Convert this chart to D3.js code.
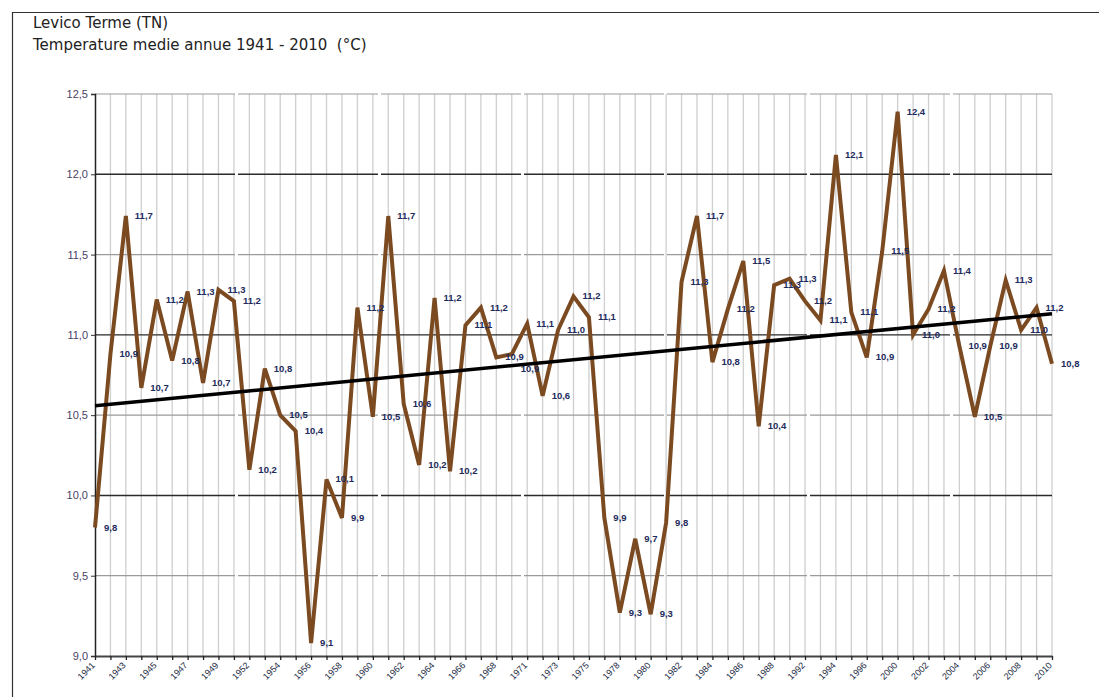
<!DOCTYPE html>
<html>
<head>
<meta charset="utf-8">
<script src="https://cdn.jsdelivr.net/npm/d3@7"></script>
<style>
  body { margin: 0; background: #fff; }
  svg { display: block; }
  .title { font-family: 'DejaVu Sans', sans-serif; font-size: 15px; fill: #222; white-space: pre; }
  .axis text { font-family: 'Liberation Sans', Arial, sans-serif; }
  .lbl { font-family: 'Liberation Sans', Arial, sans-serif; font-size: 9.5px; font-weight: bold; fill: #1d2b5c; }
</style>
</head>
<body>
<script>
'use strict'

// years present in the series (some years missing in the source)
const years = [1941, 1942, 1943, 1944, 1945, 1946, 1947, 1948, 1949, 1950,
  1952, 1953, 1954, 1955, 1956, 1957, 1958, 1959, 1960, 1961,
  1962, 1963, 1964, 1965, 1966, 1967, 1968, 1969, 1971, 1972,
  1973, 1974, 1975, 1976, 1978, 1979, 1980, 1981, 1982, 1983,
  1984, 1985, 1986, 1987, 1988, 1990, 1992, 1993, 1994, 1995,
  1996, 1998, 2000, 2001, 2002, 2003, 2004, 2005, 2006, 2007,
  2008, 2009, 2010]

const temps = [9.80, 10.88, 11.74, 10.67, 11.22, 10.84, 11.27, 10.70, 11.28, 11.21,
  10.16, 10.79, 10.50, 10.40, 9.08, 10.10, 9.86, 11.17, 10.49, 11.74,
  10.57, 10.19, 11.23, 10.15, 11.06, 11.17, 10.86, 10.88, 11.07, 10.62,
  11.03, 11.24, 11.11, 9.86, 9.27, 9.73, 9.26, 9.83, 11.33, 11.74,
  10.83, 11.16, 11.46, 10.43, 11.31, 11.35, 11.21, 11.09, 12.12, 11.14,
  10.86, 11.52, 12.39, 11.00, 11.16, 11.40, 10.93, 10.49, 10.93, 11.34,
  11.03, 11.17, 10.82]

const yTicks = [9.0, 9.5, 10.0, 10.5, 11.0, 11.5, 12.0, 12.5]

const titleLines = ['Levico Terme (TN)', 'Temperature medie annue 1941 - 2010  (°C)']

;(function () {
  const width = 1099
  const height = 697
  const margin = { top: 94, right: 47, bottom: 41, left: 95 }
  const fmt = v => d3.format('.1f')(v).replace('.', ',')

  const svg = d3.select('body').append('svg')
    .attr('width', width)
    .attr('height', height)

  // frame
  svg.append('path')
    .attr('d', 'M12.5,' + height + 'V12.5H' + width)
    .attr('fill', 'none')
    .attr('stroke', '#333')
    .attr('stroke-width', 1.2)

  svg.selectAll('text.title')
    .data(titleLines)
    .enter()
    .append('text')
    .attr('class', 'title')
    .attr('x', 33)
    .attr('y', function (d, i) { return 28 + i * 22 })
    .text(function (d) { return d })

  const x = d3.scalePoint()
    .domain(years)
    .range([margin.left, width - margin.right])
  const y = d3.scaleLinear()
    .domain([9, 12.5])
    .range([height - margin.bottom, margin.top])

  // vertical gridlines
  svg.append('g')
    .selectAll('line')
    .data(years.slice(1))
    .enter()
    .append('line')
    .attr('x1', d => x(d)).attr('x2', d => x(d))
    .attr('y1', y(12.5)).attr('y2', y(9))
    .attr('stroke', '#cfcfcf')
    .attr('stroke-width', 1.3)

  // horizontal gridlines
  svg.append('g')
    .selectAll('line')
    .data(yTicks.slice(1))
    .enter()
    .append('line')
    .attr('x1', x.range()[0]).attr('x2', x.range()[1])
    .attr('y1', d => y(d)).attr('y2', d => y(d))
    .attr('stroke', d => (d % 1 === 0 ? '#2a2a2a' : '#9a9a9a'))
    .attr('stroke-width', d => (d % 1 === 0 ? 1.4 : 1.2))
    .attr('stroke-dasharray', '140,3')

  // axes
  const axisY = d3.axisLeft(y).tickValues(yTicks).tickFormat(fmt).tickSize(4).tickPadding(3)
  const gy = svg.append('g')
    .attr('class', 'axis y')
    .attr('transform', 'translate(' + margin.left + ',0)')
    .call(axisY)
  gy.select('.domain').attr('stroke', '#222').attr('stroke-width', 1.5)
  gy.selectAll('.tick line').attr('stroke', '#333')
  gy.selectAll('.tick text').attr('fill', '#4b3f66').attr('font-size', 11)

  const axisX = d3.axisBottom(x)
    .tickFormat(d => (years.indexOf(d) % 2 === 0 ? d : ''))
    .tickSize(4).tickSizeOuter(0)
  const gx = svg.append('g')
    .attr('class', 'axis x')
    .attr('transform', 'translate(0,' + y(9) + ')')
    .call(axisX)
  gx.select('.domain').attr('stroke', '#444').attr('stroke-width', 2)
  gx.selectAll('.tick line').attr('stroke', '#222').attr('stroke-width', 1.3)
  gx.selectAll('.tick text')
    .attr('fill', '#222a44')
    .attr('font-size', 9)
    .attr('text-anchor', 'end')
    .attr('dy', 0)
    .attr('transform', 'translate(0,10) rotate(-45)')
    .attr('y', 0)
    .attr('x', 0)

  // trend line (least squares over category index)
  const n = temps.length
  const mx = (n - 1) / 2
  const my = d3.mean(temps)
  let sxy = 0
  let sxx = 0
  for (let i = 0; i < n; ++i) {
    sxy += (i - mx) * (temps[i] - my)
    sxx += (i - mx) * (i - mx)
  }
  const slope = sxy / sxx
  const trend = [[years[0], my - slope * mx], [years[n - 1], my + slope * mx]]

  const line = d3.line()
    .x(d => x(d[0]))
    .y(d => y(d[1]))
  const series = years.map((yr, i) => [yr, temps[i]])

  svg.append('path')
    .attr('d', line(series))
    .attr('fill', 'none')
    .attr('stroke', '#7b4a20')
    .attr('stroke-width', 4)
    .attr('stroke-linejoin', 'miter')

  svg.append('path')
    .attr('d', line(trend))
    .attr('fill', 'none')
    .attr('stroke', '#000')
    .attr('stroke-width', 3.5)

  // value labels to the right of each point; nudge down when the previous one is in the way
  let prev = null
  const labelPos = series.map(function (d) {
    const p = { x: x(d[0]) + 9, y: y(d[1]) + 3 }
    if (prev && p.x - prev.x < 18 && Math.abs(p.y - prev.y) < 5) p.y = prev.y + 12
    prev = p
    return p
  })

  svg.append('g')
    .selectAll('text')
    .data(series)
    .enter()
    .append('text')
    .attr('class', 'lbl')
    .attr('x', (d, i) => labelPos[i].x)
    .attr('y', (d, i) => labelPos[i].y)
    .text(d => fmt(d[1]))
})()
</script>
</body>
</html>
